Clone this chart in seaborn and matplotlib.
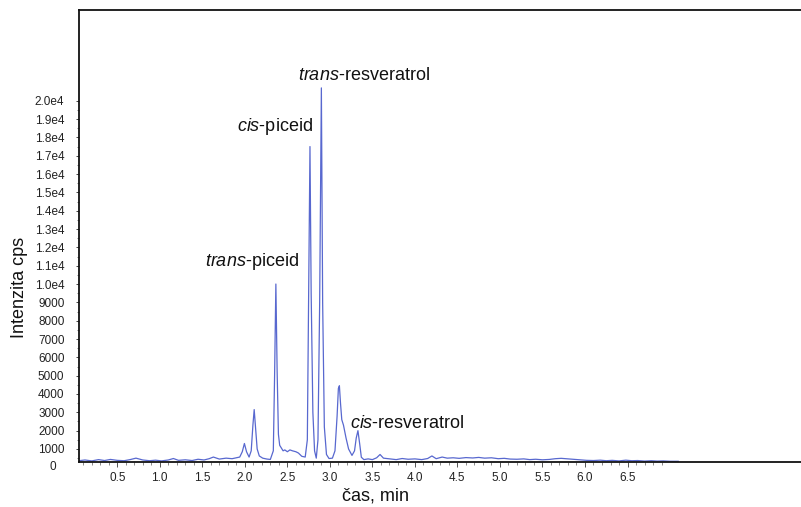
import matplotlib
matplotlib.use("Agg")
import matplotlib.pyplot as plt
import matplotlib.transforms as mtransforms
from matplotlib.ticker import FixedLocator, FixedFormatter, NullFormatter
import seaborn as sns
import pandas as pd

# ---- data ----
time_min = [
    0.05, 0.12, 0.2, 0.28, 0.35, 0.42, 0.5, 0.58, 0.65, 0.72, 0.8, 0.88, 0.95, 1.02,
    1.1, 1.16, 1.22, 1.3, 1.38, 1.45, 1.52, 1.58, 1.63, 1.7, 1.78, 1.85, 1.9, 1.94,
    1.97, 1.995, 2.02, 2.05, 2.075, 2.095, 2.11, 2.125, 2.145, 2.17, 2.21, 2.26, 2.3,
    2.335, 2.35, 2.365, 2.38, 2.395, 2.41, 2.43, 2.45, 2.47, 2.5, 2.53, 2.56, 2.6,
    2.63, 2.67, 2.71, 2.735, 2.75, 2.766, 2.78, 2.80, 2.82, 2.84, 2.86, 2.88, 2.90,
    2.915, 2.935, 2.96, 2.99, 3.03, 3.06, 3.085, 3.10, 3.112, 3.125, 3.14, 3.16, 3.19,
    3.22, 3.26, 3.29, 3.31, 3.33, 3.35, 3.37, 3.40, 3.45, 3.5, 3.55, 3.59, 3.63, 3.7,
    3.78, 3.85, 3.92, 4.0, 4.08, 4.15, 4.2, 4.25, 4.32, 4.38, 4.45, 4.52, 4.6, 4.68,
    4.75, 4.82, 4.9, 4.98, 5.05, 5.12, 5.2, 5.28, 5.35, 5.42, 5.5, 5.58, 5.65, 5.72,
    5.8, 5.88, 5.95, 6.02, 6.1, 6.18, 6.25, 6.32, 6.4, 6.48, 6.55, 6.62, 6.7, 6.78,
    6.85, 6.92, 7.0, 7.1,
]
intensity_cps = [
    360, 400, 350, 420, 370, 430, 380, 360, 420, 500, 400, 360, 390, 350,
    400, 480, 380, 410, 370, 440, 400, 470, 560, 450, 500, 470, 520, 560,
    850, 1300, 850, 560, 900, 2300, 3150, 2200, 1000, 620, 500, 450, 430,
    900, 5000, 10000, 5200, 1800, 1200, 1050, 900, 950, 850, 950, 900, 850,
    780, 600, 560, 1500, 9000, 17500, 9500, 3000, 900, 500, 1500, 9000, 20700,
    9000, 2200, 700, 480, 500, 900, 2800, 4300, 4450, 3500, 2600, 2300, 1600,
    1000, 650, 900, 1600, 2000, 1300, 550, 420, 460, 420, 520, 700, 500, 460,
    420, 480, 440, 460, 420, 480, 620, 470, 560, 500, 520, 490, 530, 510,
    540, 500, 520, 470, 490, 450, 440, 460, 420, 440, 410, 430, 470, 490,
    460, 430, 400, 380, 370, 390, 360, 380, 350, 390, 360, 370, 340, 360,
    340, 350, 330, 330,
]
assert len(time_min) == len(intensity_cps)

peak_labels = [("trans", "-resveratrol"), ("cis", "-piceid"),
               ("trans", "-piceid"), ("cis", "-resveratrol")]

x_major = [0.5, 1.0, 1.5, 2.0, 2.5, 3.0, 3.5, 4.0, 4.5, 5.0, 5.5, 6.0, 6.5]
x_minor = [round(0.1 * i, 1) for i in range(1, 70)]
y_major = [1000, 2000, 3000, 4000, 5000, 6000, 7000, 8000, 9000, 10000, 11000,
           12000, 13000, 14000, 15000, 16000, 17000, 18000, 19000, 20000]
y_labels = ["1000", "2000", "3000", "4000", "5000", "6000", "7000", "8000", "9000",
            "1.0e4", "1.1e4", "1.2e4", "1.3e4", "1.4e4", "1.5e4", "1.6e4", "1.7e4",
            "1.8e4", "1.9e4", "2.0e4"]
y_minor = [500 * i for i in range(1, 41)]

# ---- styling ----
sns.set_theme(style="white")
plt.rcParams["font.family"] = ["Liberation Sans", "DejaVu Sans"]
plt.rcParams["mathtext.fontset"] = "custom"
plt.rcParams["mathtext.it"] = "Liberation Sans:italic"
plt.rcParams["mathtext.rm"] = "Liberation Sans"

fig = plt.figure(figsize=(8.01, 5.07), dpi=100)
ax = fig.add_axes([79 / 801, 45 / 507, 722 / 801, 452 / 507])

df = pd.DataFrame({"time": time_min, "intensity": intensity_cps})
sns.lineplot(data=df, x="time", y="intensity", ax=ax, color="#5868cf",
             linewidth=0.9, estimator=None, sort=False)

ax.set_xlim(0.05, 8.54)
ax.set_ylim(290, 24950)

for s in ["left", "top", "bottom"]:
    ax.spines[s].set_color("#111111")
    ax.spines[s].set_linewidth(1.3)
ax.spines["right"].set_visible(False)

ax.xaxis.set_major_locator(FixedLocator(x_major))
ax.xaxis.set_major_formatter(FixedFormatter([f"{v:.1f}" for v in x_major]))
ax.xaxis.set_minor_locator(FixedLocator(x_minor))
ax.xaxis.set_minor_formatter(NullFormatter())
ax.yaxis.set_major_locator(FixedLocator(y_major))
ax.yaxis.set_major_formatter(FixedFormatter(y_labels))
ax.yaxis.set_minor_locator(FixedLocator(y_minor))
ax.yaxis.set_minor_formatter(NullFormatter())

ax.tick_params(axis="x", which="major", direction="out", length=3.5, width=0.7,
               color="#555555", pad=4, labelsize=8.5, labelcolor="#222222",
               bottom=True)
ax.tick_params(axis="x", which="minor", direction="out", length=2.2, width=0.6,
               color="#777777", bottom=True)
ax.tick_params(axis="y", which="major", direction="out", length=2.5, width=0.7,
               color="#444444", pad=8, labelsize=8.5, labelcolor="#222222",
               left=True)
ax.tick_params(axis="y", which="minor", direction="out", length=1.5, width=0.6,
               color="#666666", left=True)

# the "0" label sits just below the drawn baseline axis
trans = mtransforms.blended_transform_factory(fig.transFigure, ax.transData)
ax.text(53 / 801, 0, "0", transform=trans, ha="center", va="center",
        fontsize=8.5, color="#222222", clip_on=False)

ax.set_xlabel("čas, min", fontsize=13, color="#111111")
ax.xaxis.set_label_coords(0.4105, -0.056)
ax.set_ylabel("Intenzita cps", fontsize=13, color="#111111")
ax.yaxis.set_label_coords(-0.071, 0.387)

label_pos = [(2.628, 21130), (1.906, 18360), (1.533, 11000), (3.233, 2130)]
for (it, rest), (tx, ty) in zip(peak_labels, label_pos):
    ax.text(tx, ty, rf"$\it{{{it}}}$" + rest, fontsize=13, color="#111111",
            ha="left", va="baseline")

fig.savefig("out.png", dpi=100)
